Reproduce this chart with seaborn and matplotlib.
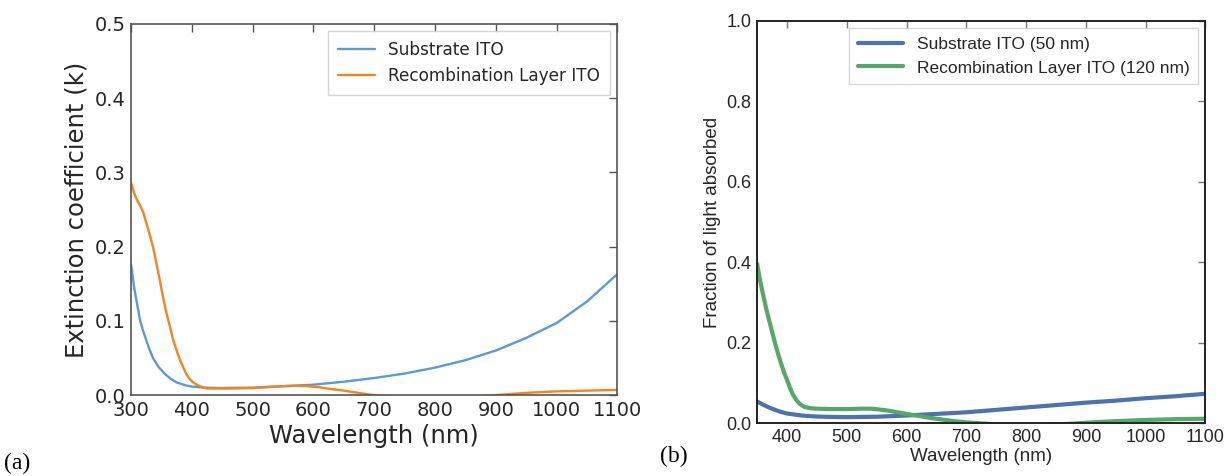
import numpy as np
import pandas as pd
import matplotlib
matplotlib.use("Agg")
import matplotlib.pyplot as plt
import seaborn as sns

# (a) extinction coefficient
wl_a_sub = [300, 305, 310, 315, 320, 330, 336, 345, 355, 365, 375, 390, 400, 420, 450,
            500, 550, 600, 650, 700, 750, 800, 850, 900, 950, 1000, 1050, 1100]
k_sub = [0.176, 0.145, 0.122, 0.100, 0.086, 0.062, 0.050, 0.038, 0.029, 0.022, 0.017,
         0.013, 0.0115, 0.010, 0.0095, 0.010, 0.012, 0.014, 0.018, 0.023, 0.029, 0.037,
         0.047, 0.060, 0.077, 0.097, 0.126, 0.163]

wl_a_rec = [300, 305, 310, 315, 320, 325, 330, 336, 341, 347, 352, 358, 364, 369, 375,
            380, 386, 391, 397, 402, 408, 413, 419, 424, 435, 450, 475, 500, 530, 550,
            570, 590, 610, 630, 650, 670, 690, 700, 750, 800, 850, 900, 950, 1000, 1050, 1100]
k_rec = [0.286, 0.272, 0.262, 0.255, 0.246, 0.232, 0.218, 0.200, 0.180, 0.156, 0.134,
         0.111, 0.092, 0.075, 0.060, 0.048, 0.037, 0.028, 0.021, 0.017, 0.014, 0.012,
         0.010, 0.009, 0.0088, 0.0088, 0.009, 0.0095, 0.011, 0.012, 0.0125, 0.012, 0.0105,
         0.008, 0.006, 0.0035, 0.001, 0.0, -0.004, -0.005, -0.003, 0.0, 0.003, 0.005, 0.006, 0.007]

# (b) fraction of light absorbed
wl_b_sub = [350, 360, 370, 380, 390, 400, 425, 450, 475, 500, 550, 600, 650, 700, 750,
            800, 850, 900, 950, 1000, 1050, 1100]
abs_sub = [0.054, 0.046, 0.039, 0.033, 0.028, 0.024, 0.019, 0.0165, 0.0155, 0.015, 0.016,
           0.019, 0.023, 0.027, 0.033, 0.039, 0.045, 0.051, 0.056, 0.062, 0.067, 0.073]

wl_b_rec = [350, 355, 360, 365, 370, 375, 380, 385, 390, 395, 400, 405, 410, 415, 420,
            425, 430, 440, 450, 475, 500, 525, 540, 555, 570, 585, 600, 620, 640, 660,
            680, 700, 720, 760, 800, 840, 880, 900, 950, 1000, 1050, 1100]
abs_rec = [0.397, 0.355, 0.320, 0.287, 0.257, 0.228, 0.200, 0.173, 0.149, 0.127, 0.108,
           0.088, 0.071, 0.059, 0.050, 0.044, 0.040, 0.037, 0.036, 0.035, 0.035, 0.036,
           0.036, 0.034, 0.031, 0.027, 0.023, 0.018, 0.013, 0.009, 0.005, 0.002, 0.0,
           -0.004, -0.005, -0.004, -0.001, 0.001, 0.005, 0.008, 0.010, 0.011]

df_a = pd.concat([
    pd.DataFrame({"wl": wl_a_sub, "val": k_sub, "series": "Substrate ITO"}),
    pd.DataFrame({"wl": wl_a_rec, "val": k_rec, "series": "Recombination Layer ITO"}),
])
df_b = pd.concat([
    pd.DataFrame({"wl": wl_b_sub, "val": abs_sub, "series": "Substrate ITO (50 nm)"}),
    pd.DataFrame({"wl": wl_b_rec, "val": abs_rec, "series": "Recombination Layer ITO (120 nm)"}),
])

sns.set_style("white")
fig = plt.figure(figsize=(12.25, 4.76), dpi=100)

# panel (a)
ax1 = fig.add_axes([0.107, 0.170, 0.397, 0.780])
sns.lineplot(data=df_a, x="wl", y="val", hue="series", sort=False, estimator=None,
             palette=["#5b9bd5", "#f5841f"], linewidth=1.7, ax=ax1)
ax1.set_xlim(300, 1100)
ax1.set_ylim(0, 0.5)
ax1.set_xticks(np.arange(300, 1101, 100))
ax1.set_yticks(np.arange(0, 0.51, 0.1))
ax1.set_xlabel("Wavelength (nm)", fontsize=17.5, color="#262626", family="DejaVu Sans", labelpad=3)
ax1.set_ylabel("Extinction coefficient (k)", fontsize=17.5, color="#262626", family="DejaVu Sans")
ax1.tick_params(direction="in", top=True, right=True, length=6, width=1, color="#555555",
                labelsize=14, labelcolor="#262626", pad=4)
for s in ax1.spines.values():
    s.set_color("#555555")
    s.set_linewidth(1.2)
leg1 = ax1.legend(loc="upper right", fontsize=12.2, frameon=True, fancybox=False,
                  handlelength=2.2, borderpad=0.55, borderaxespad=0.45)
leg1.get_frame().set_edgecolor("#cccccc")
for t in leg1.get_texts():
    t.set_color("#262626")

# panel (b)
ax2 = fig.add_axes([0.618, 0.111, 0.366, 0.845])
sns.lineplot(data=df_b, x="wl", y="val", hue="series", sort=False, estimator=None,
             palette=["#4c72b0", "#55a868"], linewidth=3, ax=ax2)
ax2.set_xlim(350, 1100)
ax2.set_ylim(0, 1.0)
ax2.set_xticks(np.arange(400, 1101, 100))
ax2.set_yticks(np.arange(0, 1.01, 0.2))
ax2.set_xlabel("Wavelength (nm)", fontsize=13.5, color="#262626", family="Liberation Sans", labelpad=2)
ax2.set_ylabel("Fraction of light absorbed", fontsize=13.5, color="#262626", family="Liberation Sans")
ax2.tick_params(direction="in", top=True, right=True, length=5, width=1, color="#777777",
                labelsize=13, labelcolor="#262626", pad=4)
for lab in ax2.get_xticklabels() + ax2.get_yticklabels():
    lab.set_family("Liberation Sans")
for s in ax2.spines.values():
    s.set_color("#222222")
    s.set_linewidth(1.4)
leg2 = ax2.legend(loc="upper right", prop={"family": "Liberation Sans", "size": 12.5},
                  frameon=True, fancybox=False, handlelength=2.6, borderpad=0.5,
                  borderaxespad=0.4)
leg2.get_frame().set_edgecolor("#cccccc")
for t in leg2.get_texts():
    t.set_color("#262626")

fig.text(0.003, 0.015, "(a)", fontsize=17, family="Liberation Serif", color="black")
fig.text(0.539, 0.03, "(b)", fontsize=17, family="Liberation Serif", color="black")

fig.savefig("out.png", dpi=100)
